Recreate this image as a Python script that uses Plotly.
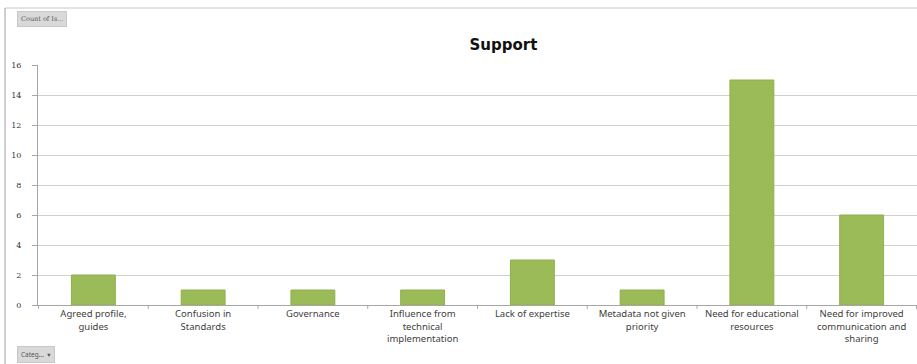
import plotly.graph_objects as go

categories = [
    "Agreed profile,<br>guides",
    "Confusion in<br>Standards",
    "Governance",
    "Influence from<br>technical<br>implementation",
    "Lack of expertise",
    "Metadata not given<br>priority",
    "Need for educational<br>resources",
    "Need for improved<br>communication and<br>sharing",
]
counts = [2, 1, 1, 1, 3, 1, 15, 6]
y_ticks = [0, 2, 4, 6, 8, 10, 12, 14, 16]

font_family = "Noto Sans, DejaVu Sans, sans-serif"
text_color = "#404040"

fig = go.Figure(
    go.Bar(
        x=categories,
        y=counts,
        marker=dict(color="#9bbb59", line=dict(color="#8fb04e", width=1)),
        hoverinfo="x+y",
    )
)

fig.update_layout(
    width=917,
    height=364,
    margin=dict(l=38, r=0, t=65, b=59),
    paper_bgcolor="white",
    plot_bgcolor="white",
    bargap=0.6,
    showlegend=False,
    font=dict(family=font_family, size=9, color=text_color),
    title=dict(
        text="<b>Support</b>",
        x=0.549,
        xanchor="center",
        y=0.876,
        yanchor="middle",
        font=dict(family="DejaVu Sans, sans-serif", size=15, color="#111111"),
    ),
)

fig.update_xaxes(
    showline=True,
    linecolor="#a6a6a6",
    linewidth=1,
    ticks="",
    showgrid=False,
    tickangle=0,
    tickfont=dict(size=9.5, color=text_color),
)

fig.update_yaxes(
    range=[0, 16],
    tickvals=y_ticks,
    ticktext=[str(v) for v in y_ticks],
    showline=True,
    linecolor="#a6a6a6",
    linewidth=1,
    ticks="outside",
    ticklen=5,
    tickcolor="#a6a6a6",
    ticklabelstandoff=9,
    showgrid=True,
    gridcolor="#d0d0d0",
    gridwidth=1,
    zeroline=False,
    tickfont=dict(family="DejaVu Serif, serif", size=8, color="#333333"),
)

# category boundary tick marks below the x axis
shapes = []
for i in range(len(categories) + 1):
    shapes.append(dict(
        type="line", xref="x", yref="paper",
        x0=i - 0.5, x1=i - 0.5, y0=0, y1=-0.016,
        line=dict(color="#a6a6a6", width=1),
    ))

# outer frame lines of the chart panel
top_y = (364 - 8 - 59) / 240
left_x = -33 / 879
shapes.append(dict(type="line", xref="paper", yref="paper",
                   x0=left_x, x1=1, y0=top_y, y1=top_y,
                   line=dict(color="#c8c8c8", width=1)))
shapes.append(dict(type="line", xref="paper", yref="paper",
                   x0=left_x, x1=left_x, y0=-59 / 240, y1=top_y,
                   line=dict(color="#a0a0a0", width=1)))
fig.update_layout(shapes=shapes)

# field buttons
fig.add_annotation(
    text="Count of Is...", xref="paper", yref="paper",
    x=-21 / 879, y=(364 - 19 - 59) / 240, xanchor="left", yanchor="middle",
    showarrow=False, bgcolor="#d9d9d9", bordercolor="#c8c8c8", borderwidth=1,
    borderpad=3, font=dict(family="DejaVu Serif, serif", size=6.5, color="#555555"),
)
fig.add_annotation(
    text="Categ...  \u25be", xref="paper", yref="paper",
    x=-21 / 879, y=(364 - 354 - 59) / 240, xanchor="left", yanchor="middle",
    showarrow=False, bgcolor="#d9d9d9", bordercolor="#c8c8c8", borderwidth=1,
    borderpad=3, font=dict(family=font_family, size=6.5, color="#555555"),
)

fig.write_html("out.html")
